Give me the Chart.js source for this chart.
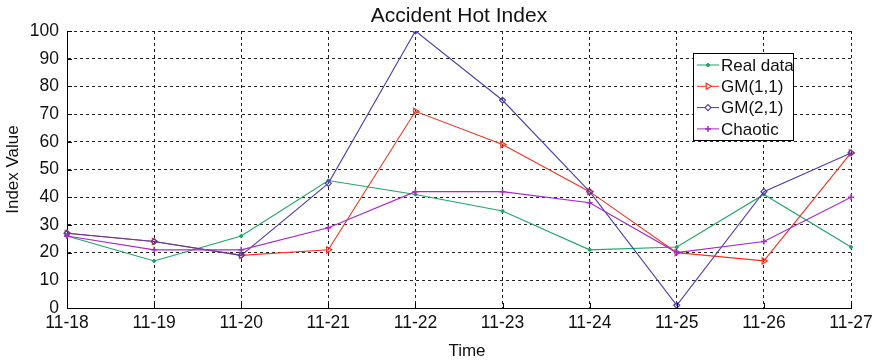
<!DOCTYPE html>
<html>
<head>
<meta charset="utf-8">
<script src="https://cdn.jsdelivr.net/npm/chart.js@4/dist/chart.umd.min.js"></script>
<style>
  html, body { margin: 0; padding: 0; background: #fff; }
  #wrap { width: 879px; height: 364px; }
</style>
</head>
<body>
<div id="wrap"><canvas id="c" width="879" height="364"></canvas></div>
<script>
// Daily dates on the horizontal axis
const days = ['11-18', '11-19', '11-20', '11-21', '11-22', '11-23', '11-24', '11-25', '11-26', '11-27'];

// Index series
const realData = [26, 17, 26, 46, 41, 35, 21, 22, 41, 22];
const gm11     = [27, 24, 19, 21, 71, 59, 42, 20, 17, 56];
const gm21     = [27, 24, 19, 45, 100, 75, 42, 1, 42, 56];
const chaotic  = [26, 21, 21, 29, 42, 42, 38, 20, 24, 40];

const yTicks = [0, 10, 20, 30, 40, 50, 60, 70, 80, 90, 100];

const FONT = '"Liberation Sans", Arial, Helvetica, sans-serif';

const series = [
  { label: 'Real data', data: realData, color: '#1fa567', pointStyle: 'circle',   radius: 1.5, width: 1, fill: true,  rotation: 0,  order: 3 },
  { label: 'GM(1,1)',   data: gm11,     color: '#f0321e', pointStyle: 'triangle', radius: 3.5, width: 1.2, fill: false, rotation: 90, order: 2 },
  { label: 'GM(2,1)',   data: gm21,     color: '#4f3fa8', pointStyle: 'rectRot',  radius: 3,   width: 1.2, fill: false, rotation: 0,  order: 1 },
  { label: 'Chaotic',   data: chaotic,  color: '#a62bc8', pointStyle: 'cross',    radius: 3,   width: 1.5, fill: false, rotation: 0, order: 0 }
];

// Inward tick marks along the left and bottom axes
const innerTicks = {
  id: 'innerTicks',
  afterDraw(chart) {
    const { ctx, chartArea: a, scales } = chart;
    ctx.save();
    ctx.strokeStyle = '#000';
    ctx.lineWidth = 1;
    ctx.beginPath();
    yTicks.forEach(v => {
      const y = Math.round(scales.y.getPixelForValue(v)) + 0.5;
      ctx.moveTo(a.left, y);
      ctx.lineTo(a.left + 5, y);
    });
    days.forEach((d, i) => {
      const x = Math.round(scales.x.getPixelForValue(i)) + 0.5;
      ctx.moveTo(x, a.bottom);
      ctx.lineTo(x, a.bottom - 5);
    });
    ctx.stroke();
    ctx.restore();
  }
};

// Title and axis captions
const captions = {
  id: 'captions',
  afterDraw(chart) {
    const { ctx, chartArea: a } = chart;
    ctx.save();
    ctx.fillStyle = '#111';
    ctx.textAlign = 'center';
    ctx.textBaseline = 'alphabetic';
    ctx.font = '21px ' + FONT;
    ctx.fillText('Accident Hot Index', (a.left + a.right) / 2, 22);
    ctx.font = '17px ' + FONT;
    ctx.textBaseline = 'middle';
    ctx.fillText('Time', 467, 351);
    ctx.translate(13, (a.top + a.bottom) / 2);
    ctx.rotate(-Math.PI / 2);
    ctx.fillText('Index Value', 0, 0);
    ctx.restore();
  }
};

// Boxed legend inside the plot, upper right
const boxLegend = {
  id: 'boxLegend',
  afterDraw(chart) {
    const { ctx } = chart;
    const x0 = 693, y0 = 53, w = 100, h = 87;
    ctx.save();
    ctx.fillStyle = '#fff';
    ctx.fillRect(x0, y0, w, h);
    ctx.strokeStyle = '#000';
    ctx.lineWidth = 1;
    ctx.strokeRect(x0 + 0.5, y0 + 0.5, w, h);
    ctx.font = '17px ' + FONT;
    ctx.textBaseline = 'middle';
    ctx.textAlign = 'left';
    series.forEach((s, i) => {
      const cy = 65 + i * 21.3;
      ctx.strokeStyle = s.color;
      ctx.lineWidth = 1;
      ctx.beginPath();
      ctx.moveTo(697, cy);
      ctx.lineTo(719, cy);
      ctx.stroke();
      ctx.fillStyle = s.fill ? s.color : '#fff';
      ctx.lineWidth = s.width;
      Chart.helpers.drawPoint(ctx, {
        pointStyle: s.pointStyle, radius: s.radius, rotation: s.rotation, borderWidth: s.width
      }, 708, cy);
      ctx.fillStyle = '#111';
      ctx.fillText(s.label, 721, cy + 1);
    });
    ctx.restore();
  }
};

new Chart(document.getElementById('c'), {
  type: 'line',
  data: {
    labels: days,
    datasets: series.map(s => ({
      label: s.label,
      data: s.data,
      borderColor: s.color,
      backgroundColor: s.fill ? s.color : '#fff',
      borderWidth: 1.1,
      pointStyle: s.pointStyle,
      pointRadius: s.radius,
      pointRotation: s.rotation,
      pointBorderColor: s.color,
      pointBackgroundColor: s.fill ? s.color : 'rgba(255,255,255,0)',
      pointBorderWidth: s.width,
      tension: 0,
      order: s.order
    }))
  },
  options: {
    responsive: false,
    animation: false,
    devicePixelRatio: 1,
    layout: { padding: { left: 0, right: 28, top: 31, bottom: 0 } },
    plugins: {
      legend: { display: false },
      title: { display: false },
      tooltip: { enabled: false }
    },
    scales: {
      x: {
        type: 'category',
        offset: false,
        grid: { color: '#222', lineWidth: 1, drawTicks: false },
        border: { display: true, color: '#000', width: 1, dash: [3, 3] },
        ticks: {
          color: '#111', font: { family: FONT, size: 17.5 },
          maxRotation: 0, autoSkip: false, padding: 5
        },
        afterFit(scale) { scale.height = 56; }
      },
      y: {
        min: 0, max: 100,
        grid: { color: '#222', lineWidth: 1, drawTicks: false },
        border: { display: true, color: '#000', width: 1, dash: [3, 3] },
        afterBuildTicks(scale) { scale.ticks = yTicks.map(v => ({ value: v })); },
        ticks: {
          color: '#111', font: { family: FONT, size: 17.5 }, padding: 8
        },
        afterFit(scale) { scale.width = 67; }
      }
    }
  },
  plugins: [innerTicks, captions, boxLegend]
});
</script>
</body>
</html>
